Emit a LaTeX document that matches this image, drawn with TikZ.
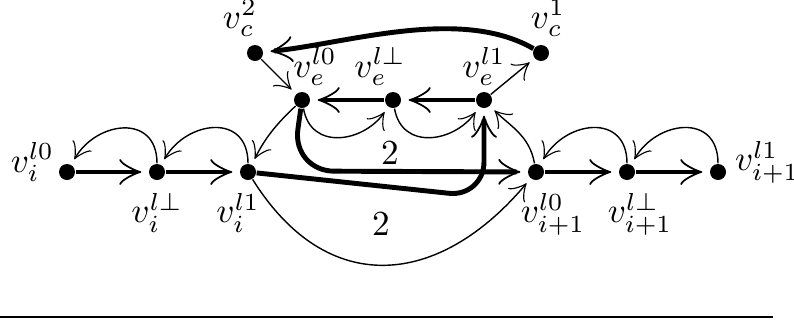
\documentclass[tikz,border=0pt]{standalone}
\usepackage{amsmath,amssymb}
\usepackage{tikz}
\usetikzlibrary{arrows.meta,positioning,calc}

\begin{document}
\begin{tikzpicture}[
    dot/.style={circle,fill,inner sep=0pt,minimum size=1.6mm},
    heavy/.style={line width=1.4pt,-{Classical TikZ Rightarrow[length=2.2mm,width=2.6mm,line width=0.5pt]},shorten >=0.7mm},
    light/.style={-{Classical TikZ Rightarrow[length=1.6mm,width=2.2mm]},shorten >=0.6mm},
    hop/.style={light,out=90,in=60,looseness=1.5}
  ]
    \useasboundingbox (0,0) rectangle (7.94,-3.20);
    % lower row
    \node[dot,label={[xshift=0.8mm,yshift=1mm]left:$v_i^{l0}$}] (vi0) at (0.67,-1.72) {};
    \node[dot,label=below:$v_i^{l\perp}$] (vis) at (1.57,-1.72) {};
    \node[dot,label={[xshift=-1mm]below:$v_i^{l1}$}] (vi1) at (2.48,-1.72) {};
    \node[dot,label={[xshift=1.7mm]below:$v_{i+1}^{l0}$}] (vn0) at (5.36,-1.72) {};
    \node[dot,label={[xshift=1.3mm]below:$v_{i+1}^{l\perp}$}] (vns) at (6.27,-1.72) {};
    \node[dot,label={[xshift=-0.4mm,yshift=1mm]right:$v_{i+1}^{l1}$}] (vn1) at (7.18,-1.72) {};
    % upper part
    \node[dot,label={[xshift=-1.5mm,yshift=-0.5mm]above:$v_c^2$}] (vc2) at (2.55,-0.53) {};
    \node[dot,label={[xshift=0.7mm,yshift=-0.5mm]above:$v_c^1$}] (vc1) at (5.41,-0.53) {};
    \node[dot,label={[xshift=1.3mm,yshift=-0.7mm]above:$v_e^{l0}$}] (ve0) at (3.02,-1.00) {};
    \node[dot,label={[xshift=-1.3mm,yshift=-0.7mm]above:$v_e^{l\perp}$}] (ves) at (3.93,-1.00) {};
    \node[dot,label={[yshift=-0.7mm]above:$v_e^{l1}$}] (ve1) at (4.84,-1.00) {};
    \coordinate (cA) at (2.92,-1.71);
    \coordinate (cB) at (4.84,-1.97);
    \node (wA) at (3.90,-1.53) {2};
    \node (wB) at (3.81,-2.24) {2};

    \draw[heavy] (vi0) -- (vis);
    \draw[heavy] (vis) -- (vi1);
    \draw[heavy] (vn0) -- (vns);
    \draw[heavy] (vns) -- (vn1);
    \draw[heavy] (ve1) -- (ves);
    \draw[heavy] (ves) -- (ve0);
    \draw[heavy] (vc1) to[out=150,in=6,looseness=0.8] (vc2);
    \draw[heavy,rounded corners=12pt] (ve0) -- (cA) -- (vn0);
    \draw[heavy,rounded corners=10pt] (vi1) -- (cB) -- (ve1);

    \draw[hop] (vis) to (vi0);
    \draw[hop] (vi1) to (vis);
    \draw[hop] (vns) to (vn0);
    \draw[hop] (vn1) to (vns);
    \draw[light] (vc2) -- (ve0);
    \draw[light] (ve1) -- (vc1);
    \draw[light] (ve0) to[bend right=10] (vi1);
    \draw[light] (ve0) to[out=-80,in=-125,looseness=1.3] (ves);
    \draw[light] (ves) to[out=-80,in=-125,looseness=1.3] (ve1);
    \draw[light] (vn0) to[out=100,in=-45] (ve1);
    \draw[light] (vi1) to[out=-58,in=-130,looseness=1.3] (vn0);

    \draw[line width=0.7pt] (0,-3.17) -- (7.73,-3.17);
  \end{tikzpicture}
\end{document}
